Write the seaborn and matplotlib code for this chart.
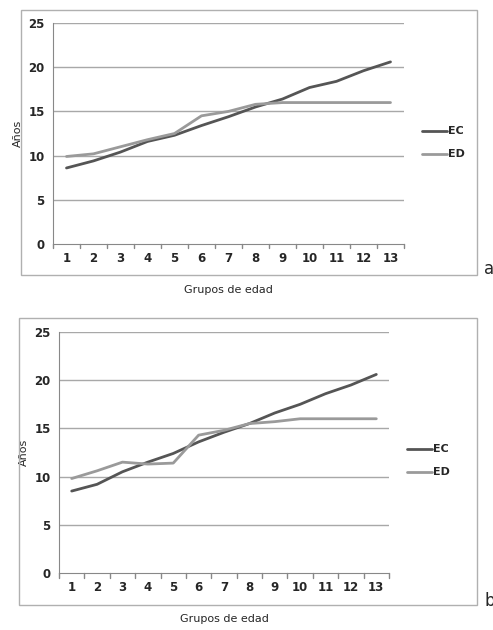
import matplotlib
matplotlib.use("Agg")
import matplotlib.pyplot as plt
import seaborn as sns
import pandas as pd
from matplotlib.patches import Rectangle

groups = list(range(1, 14))
ec_a = [8.6, 9.4, 10.4, 11.6, 12.3, 13.4, 14.4, 15.5, 16.4, 17.7, 18.4, 19.6, 20.6]
ed_a = [9.9, 10.2, 11.0, 11.8, 12.5, 14.5, 15.0, 15.8, 16.0, 16.0, 16.0, 16.0, 16.0]
ec_b = [8.5, 9.2, 10.5, 11.5, 12.4, 13.6, 14.6, 15.5, 16.6, 17.5, 18.6, 19.5, 20.6]
ed_b = [9.8, 10.6, 11.5, 11.3, 11.4, 14.3, 14.8, 15.5, 15.7, 16.0, 16.0, 16.0, 16.0]
yticks = [0, 5, 10, 15, 20, 25]

sns.set_style("white")
plt.rcParams['font.family'] = ['DejaVu Sans']
W, H = 493, 630
fig = plt.figure(figsize=(W/100, H/100), dpi=100)

def fx(x): return x / W
def fy(y): return 1 - y / H

def panel(frame, ax_box, ec, ed, letter, letter_pos, leg_y, lw_ec):
    x0, y0, x1, y1 = frame
    fig.patches.append(Rectangle((fx(x0), fy(y1)), fx(x1 - x0), (y1 - y0) / H,
                                 transform=fig.transFigure, fill=False, edgecolor='#b0b0b0', lw=1))
    l, t, r, b = ax_box
    ax = fig.add_axes([fx(l), fy(b), fx(r - l), (b - t) / H])
    df = pd.DataFrame({'g': groups * 2, 'v': ec + ed, 's': ['EC'] * 13 + ['ED'] * 13})
    sns.lineplot(data=df, x='g', y='v', hue='s', palette={'EC': '#555555', 'ED': '#9a9a9a'},
                 ax=ax, legend=False, linewidth=2)
    ax.set_xlim(0.5, 13.5)
    ax.set_ylim(0, 25)
    ax.set_yticks(yticks)
    ax.set_xticks(groups)
    ax.tick_params(labelsize=8.5, length=0, pad=6)
    for lab in ax.get_xticklabels() + ax.get_yticklabels():
        lab.set_fontweight('bold')
    for yv in yticks[1:]:
        ax.axhline(yv, color='#a8a8a8', lw=1, zorder=0)
    for xv in [i + 0.5 for i in range(0, 14)]:
        ax.plot([xv, xv], [0, -0.5], color='#888888', lw=1, clip_on=False)
    for s in ['top', 'right']:
        ax.spines[s].set_visible(False)
    ax.spines['left'].set_color('#888888')
    ax.spines['bottom'].set_color('#888888')
    ax.set_xlabel('Grupos de edad', fontsize=8, labelpad=14)
    ax.set_ylabel('Años', fontsize=8)
    # legend
    lx = r + 18
    for i, (name, col) in enumerate([('EC', '#555555'), ('ED', '#9a9a9a')]):
        yy = fy(leg_y + i * 23)
        fig.add_artist(plt.Line2D([fx(lx), fx(lx + 25)], [yy, yy], color=col, lw=2))
        fig.text(fx(lx + 26), yy, name, fontsize=8, fontweight='bold', va='center')
    fig.text(fx(letter_pos[0]), fy(letter_pos[1]), letter, fontsize=12, va='center')

panel((21, 10, 477, 275), (53, 23, 404, 244), ec_a, ed_a, 'a', (484, 269), 131, 2)
panel((19, 318, 477, 605), (59, 332, 389, 573), ec_b, ed_b, 'b', (484, 601), 449, 2)

fig.savefig('out.png', dpi=100)
